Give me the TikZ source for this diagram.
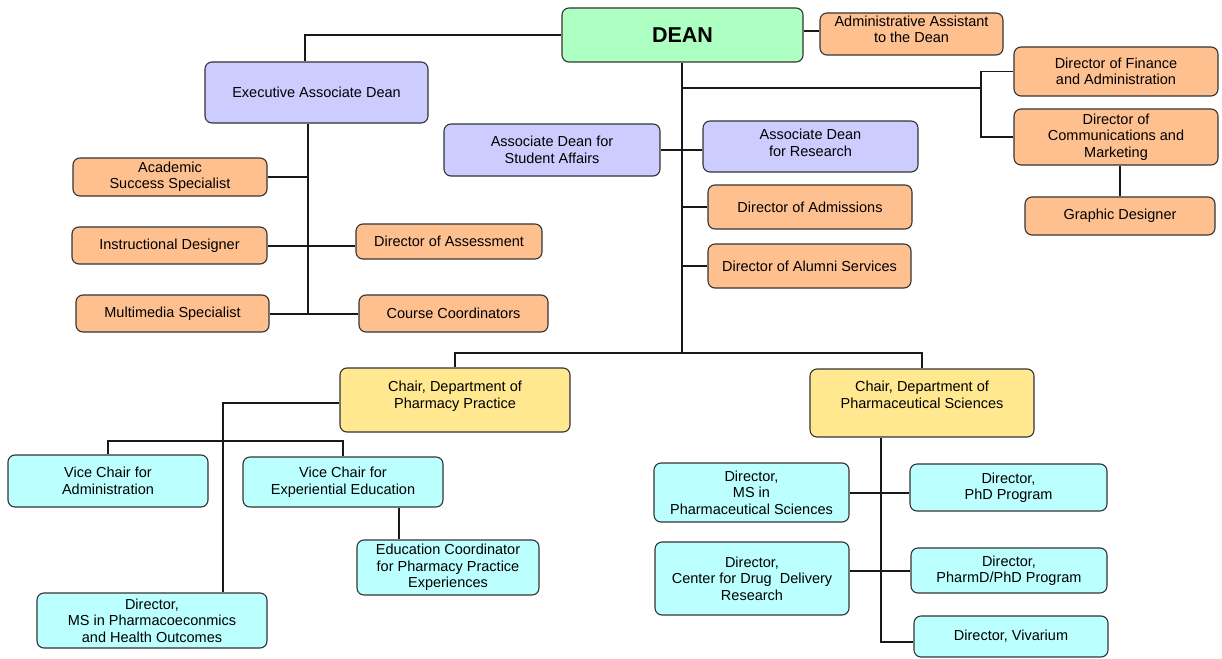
\documentclass[tikz,border=0pt]{standalone}
\usepackage{fontspec}
\setmainfont{Liberation Sans}
\definecolor{cgreen}{RGB}{173,255,194}
\definecolor{corange}{RGB}{255,192,144}
\definecolor{clav}{RGB}{204,204,255}
\definecolor{cyell}{RGB}{255,232,143}
\definecolor{ccyan}{RGB}{187,255,255}
\tikzset{
  org/.style={draw=black!80, line width=1.1pt, rounded corners=7pt, align=center, inner sep=1pt,
    font=\fontsize{14.5}{16.5}\selectfont},
  gbox/.style={org, fill=cgreen},
  obox/.style={org, fill=corange},
  lbox/.style={org, fill=clav},
  ybox/.style={org, fill=cyell},
  cbox/.style={org, fill=ccyan},
  link/.style={line width=1.4pt, draw=black!90}
}
\newcommand\orgnode[7]{\node[#1, minimum width={#4pt-#2pt}, minimum height={#5pt-#3pt}] (#6) at ({(#2+#4)/2},{(#3+#5)/2}) {#7};}
\begin{document}
\begin{tikzpicture}[x=1pt,y=-1pt]
\fill[white] (0,0) rectangle (1222,658);
\useasboundingbox (0,0) rectangle (1222,658);
% nodes
\orgnode{gbox}{562}{8}{803}{62}{dean}{\fontsize{21.5}{24}\selectfont\bfseries DEAN}
\orgnode{obox, text depth=10pt}{820}{13}{1003}{55}{admin}{Administrative Assistant\\to the Dean}
\orgnode{lbox}{205}{62}{428}{123}{exec}{Executive Associate Dean}
\orgnode{obox}{1014}{47}{1218}{96}{fin}{Director of Finance\\and Administration}
\orgnode{obox}{1014}{109}{1218}{165}{comm}{Director of\\Communications and\\Marketing}
\orgnode{obox}{1025}{197}{1215}{235}{gd}{Graphic Designer}
\orgnode{lbox}{444}{124}{660}{176}{sa}{Associate Dean for\\Student Affairs}
\orgnode{lbox, text depth=8pt}{703}{121}{918}{172}{res}{Associate Dean\\for Research}
\orgnode{obox}{708}{185}{912}{229}{adm}{Director of Admissions}
\orgnode{obox}{708}{244}{911}{288}{alum}{Director of Alumni Services}
\orgnode{obox}{73}{158}{267}{196}{acad}{Academic\\Success Specialist}
\orgnode{obox}{72}{227}{267}{264}{instr}{Instructional Designer}
\orgnode{obox}{356}{224}{542}{259}{assess}{Director of Assessment}
\orgnode{obox}{76}{295}{269}{332}{mm}{Multimedia Specialist}
\orgnode{obox}{359}{295}{548}{332}{cc}{Course Coordinators}
\orgnode{ybox, text depth=11pt}{340}{368}{570}{432}{chpp}{Chair, Department of\\Pharmacy Practice}
\orgnode{ybox, text depth=17pt}{810}{369}{1034}{437}{chps}{Chair, Department of\\Pharmaceutical Sciences}
\orgnode{cbox}{8}{455}{208}{507}{vca}{Vice Chair for\\Administration}
\orgnode{cbox}{243}{457}{443}{507}{vce}{Vice Chair for\\Experiential Education}
\orgnode{cbox}{357}{540}{539}{595}{edu}{Education Coordinator\\for Pharmacy Practice\\Experiences}
\orgnode{cbox}{37}{593}{267}{648}{dpe}{Director,\\MS in Pharmacoeconmics\\and Health Outcomes}
\orgnode{cbox}{654}{463}{849}{522}{dmsps}{Director,\\MS in\\Pharmaceutical Sciences}
\orgnode{cbox}{910}{464}{1107}{511}{phd}{Director,\\PhD Program}
\orgnode{cbox}{655}{542}{849}{615}{cdd}{Director,\\Center for Drug\ \ Delivery\\Research}
\orgnode{cbox}{911}{548}{1107}{593}{pharmd}{Director,\\PharmD/PhD Program}
\orgnode{cbox}{914}{616}{1108}{657}{viv}{Director, Vivarium}
% coordinates
\coordinate (dj) at (682,353);
\coordinate (fj) at (981,88);
\coordinate (ej) at (308,313);
\coordinate (pj) at (223,441);
\coordinate (sj) at (881,642);
% connectors
\draw[link] (dean.west) -| ([xshift=-11.5pt]exec.north);
\draw[link] (dean.south -| dj) -- (dj);
\draw[link] (fj -| dj) -- (fj);
\draw[link] (fin.west) -| (fj) |- (comm.west);
\draw[link] ([xshift=4pt]comm.south) -- ([xshift=4pt]comm.south |- gd.north);
\draw[link] ([yshift=3pt]admin.west) -- ([yshift=3pt]admin.west -| dean.east);
\draw[link] (sa.east) -- (sa.east -| res.west);
\draw[link] (adm.west) -- (adm.west -| dj);
\draw[link] (alum.west) -- (alum.west -| dj);
\draw[link] (exec.south -| ej) -- (ej);
\draw[link] (acad.east) -- (acad.east -| ej);
\draw[link] ([yshift=-0.5pt]instr.east) -- ([yshift=-0.5pt]instr.east -| assess.west);
\draw[link] ([yshift=-0.5pt]mm.east) -- ([yshift=-0.5pt]mm.east -| cc.west);
\draw[link] (chpp.north) |- (dj) -| (chps.north);
\draw[link] ([yshift=-3pt]chpp.west) -| (pj |- dpe.north);
\draw[link] (vca.north) |- (pj) -| (vce.north);
\draw[link] ([xshift=56pt]vce.south) -- ([xshift=56pt]vce.south |- edu.north);
\draw[link] (chps.south -| sj) -- (sj) -- (sj -| viv.west);
\draw[link] ([yshift=-0.5pt]dmsps.east) -- ([yshift=-0.5pt]dmsps.east -| phd.west);
\draw[link] ([yshift=-0.5pt]pharmd.west) -- ([yshift=-0.5pt]pharmd.west -| cdd.east);
\end{tikzpicture}
\end{document}
